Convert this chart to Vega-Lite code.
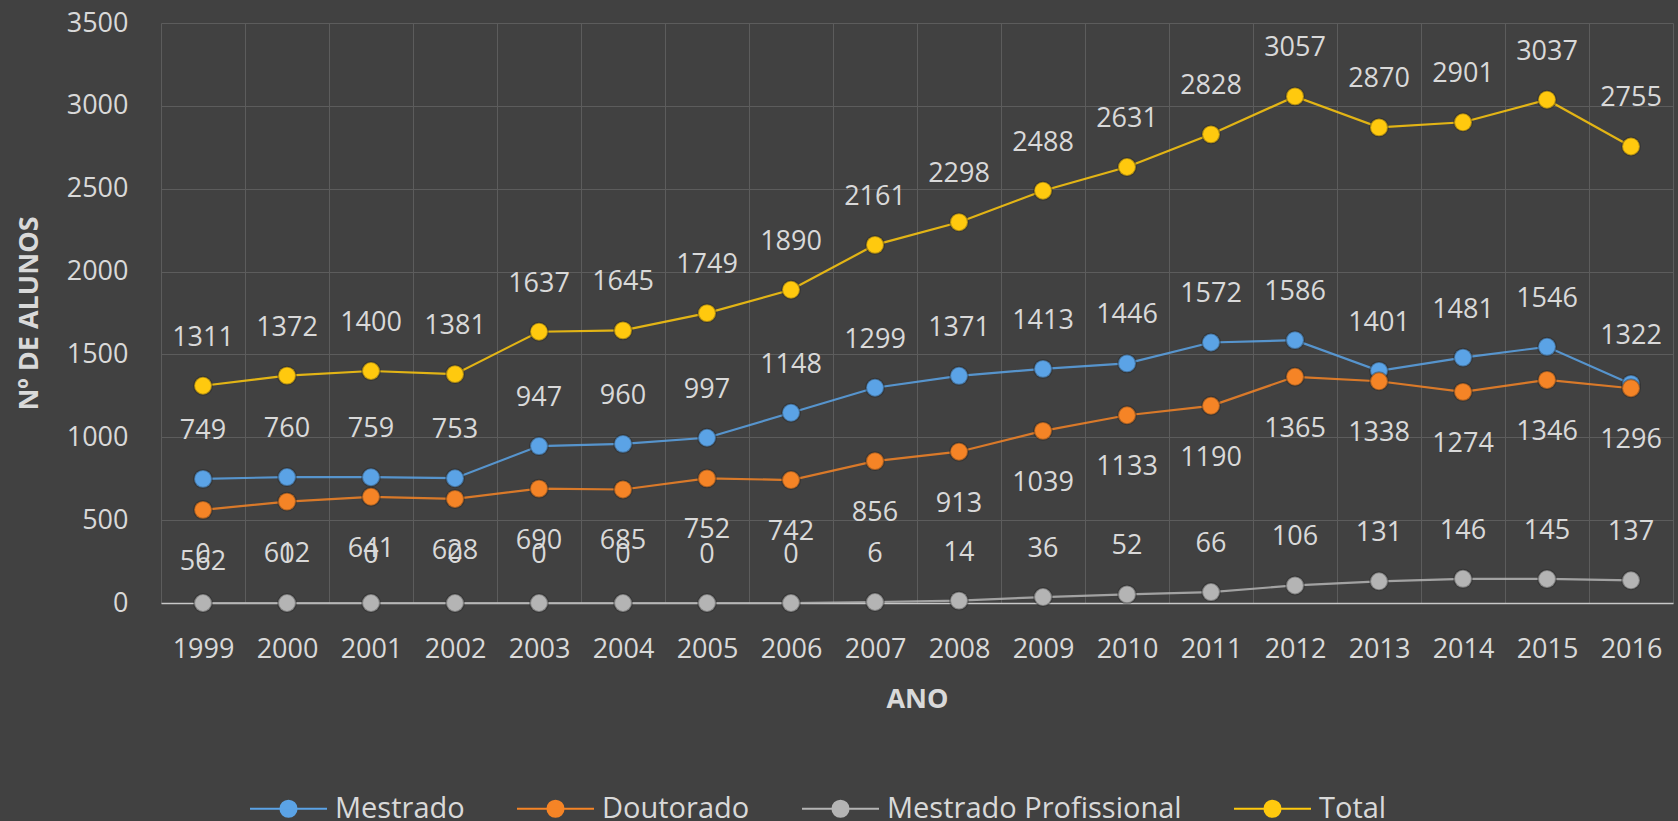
{
  "$schema": "https://vega.github.io/schema/vega-lite/v6.json",
  "autosize": {"type": "none"},
  "padding": {"left": 161, "top": 23, "right": 5, "bottom": 218},
  "width": 1512,
  "height": 580,
  "background": "#414141",
  "config": {
    "view": {"stroke": null},
    "font": "Open Sans",
    "axis": {"gridColor": "#5c5c5c", "gridWidth": 1, "labelColor": "#d9d9d9", "titleColor": "#d9d9d9"}
  },
  "data": {
    "values": [
      {"ano": "1999", "serie": "Mestrado", "valor": 749},
      {"ano": "2000", "serie": "Mestrado", "valor": 760},
      {"ano": "2001", "serie": "Mestrado", "valor": 759},
      {"ano": "2002", "serie": "Mestrado", "valor": 753},
      {"ano": "2003", "serie": "Mestrado", "valor": 947},
      {"ano": "2004", "serie": "Mestrado", "valor": 960},
      {"ano": "2005", "serie": "Mestrado", "valor": 997},
      {"ano": "2006", "serie": "Mestrado", "valor": 1148},
      {"ano": "2007", "serie": "Mestrado", "valor": 1299},
      {"ano": "2008", "serie": "Mestrado", "valor": 1371},
      {"ano": "2009", "serie": "Mestrado", "valor": 1413},
      {"ano": "2010", "serie": "Mestrado", "valor": 1446},
      {"ano": "2011", "serie": "Mestrado", "valor": 1572},
      {"ano": "2012", "serie": "Mestrado", "valor": 1586},
      {"ano": "2013", "serie": "Mestrado", "valor": 1401},
      {"ano": "2014", "serie": "Mestrado", "valor": 1481},
      {"ano": "2015", "serie": "Mestrado", "valor": 1546},
      {"ano": "2016", "serie": "Mestrado", "valor": 1322},
      {"ano": "1999", "serie": "Doutorado", "valor": 562},
      {"ano": "2000", "serie": "Doutorado", "valor": 612},
      {"ano": "2001", "serie": "Doutorado", "valor": 641},
      {"ano": "2002", "serie": "Doutorado", "valor": 628},
      {"ano": "2003", "serie": "Doutorado", "valor": 690},
      {"ano": "2004", "serie": "Doutorado", "valor": 685},
      {"ano": "2005", "serie": "Doutorado", "valor": 752},
      {"ano": "2006", "serie": "Doutorado", "valor": 742},
      {"ano": "2007", "serie": "Doutorado", "valor": 856},
      {"ano": "2008", "serie": "Doutorado", "valor": 913},
      {"ano": "2009", "serie": "Doutorado", "valor": 1039},
      {"ano": "2010", "serie": "Doutorado", "valor": 1133},
      {"ano": "2011", "serie": "Doutorado", "valor": 1190},
      {"ano": "2012", "serie": "Doutorado", "valor": 1365},
      {"ano": "2013", "serie": "Doutorado", "valor": 1338},
      {"ano": "2014", "serie": "Doutorado", "valor": 1274},
      {"ano": "2015", "serie": "Doutorado", "valor": 1346},
      {"ano": "2016", "serie": "Doutorado", "valor": 1296},
      {"ano": "1999", "serie": "Mestrado Profissional", "valor": 0},
      {"ano": "2000", "serie": "Mestrado Profissional", "valor": 0},
      {"ano": "2001", "serie": "Mestrado Profissional", "valor": 0},
      {"ano": "2002", "serie": "Mestrado Profissional", "valor": 0},
      {"ano": "2003", "serie": "Mestrado Profissional", "valor": 0},
      {"ano": "2004", "serie": "Mestrado Profissional", "valor": 0},
      {"ano": "2005", "serie": "Mestrado Profissional", "valor": 0},
      {"ano": "2006", "serie": "Mestrado Profissional", "valor": 0},
      {"ano": "2007", "serie": "Mestrado Profissional", "valor": 6},
      {"ano": "2008", "serie": "Mestrado Profissional", "valor": 14},
      {"ano": "2009", "serie": "Mestrado Profissional", "valor": 36},
      {"ano": "2010", "serie": "Mestrado Profissional", "valor": 52},
      {"ano": "2011", "serie": "Mestrado Profissional", "valor": 66},
      {"ano": "2012", "serie": "Mestrado Profissional", "valor": 106},
      {"ano": "2013", "serie": "Mestrado Profissional", "valor": 131},
      {"ano": "2014", "serie": "Mestrado Profissional", "valor": 146},
      {"ano": "2015", "serie": "Mestrado Profissional", "valor": 145},
      {"ano": "2016", "serie": "Mestrado Profissional", "valor": 137},
      {"ano": "1999", "serie": "Total", "valor": 1311},
      {"ano": "2000", "serie": "Total", "valor": 1372},
      {"ano": "2001", "serie": "Total", "valor": 1400},
      {"ano": "2002", "serie": "Total", "valor": 1381},
      {"ano": "2003", "serie": "Total", "valor": 1637},
      {"ano": "2004", "serie": "Total", "valor": 1645},
      {"ano": "2005", "serie": "Total", "valor": 1749},
      {"ano": "2006", "serie": "Total", "valor": 1890},
      {"ano": "2007", "serie": "Total", "valor": 2161},
      {"ano": "2008", "serie": "Total", "valor": 2298},
      {"ano": "2009", "serie": "Total", "valor": 2488},
      {"ano": "2010", "serie": "Total", "valor": 2631},
      {"ano": "2011", "serie": "Total", "valor": 2828},
      {"ano": "2012", "serie": "Total", "valor": 3057},
      {"ano": "2013", "serie": "Total", "valor": 2870},
      {"ano": "2014", "serie": "Total", "valor": 2901},
      {"ano": "2015", "serie": "Total", "valor": 3037},
      {"ano": "2016", "serie": "Total", "valor": 2755}
    ]
  },
  "encoding": {
    "x": {
      "field": "ano",
      "type": "ordinal",
      "scale": {"type": "band", "paddingInner": 0, "paddingOuter": 0},
      "axis": {
        "title": "ANO",
        "titleFontSize": 27,
        "titleFontWeight": "bold",
        "titleY": 96,
        "titleBaseline": "middle",
        "labelAngle": 0,
        "labelFontSize": 27,
        "labelPadding": 33,
        "ticks": false,
        "domain": true,
        "domainColor": "#c8c8c8",
        "domainWidth": 1.5,
        "grid": true,
        "tickBand": "extent"
      }
    },
    "y": {
      "field": "valor",
      "type": "quantitative",
      "scale": {"domain": [0, 3500], "nice": false},
      "axis": {
        "title": "Nº DE ALUNOS",
        "titleFontSize": 27,
        "titleFontWeight": "bold",
        "titleAngle": -90,
        "titleX": -132,
        "titleY": 290,
        "titleAlign": "center",
        "titleBaseline": "middle",
        "values": [0, 500, 1000, 1500, 2000, 2500, 3000, 3500],
        "format": "d",
        "labelFontSize": 27,
        "labelPadding": 33,
        "ticks": false,
        "domain": false,
        "grid": true
      }
    },
    "color": {
      "field": "serie",
      "type": "nominal",
      "scale": {
        "domain": ["Mestrado", "Doutorado", "Mestrado Profissional", "Total"],
        "range": ["#5ba3e6", "#f58426", "#b4b4b4", "#ffc90e"]
      },
      "legend": {
        "title": null,
        "orient": "none",
        "direction": "horizontal",
        "columns": 4,
        "legendX": 88,
        "legendY": 746,
        "padding": 0,
        "labelFontSize": 29,
        "labelColor": "#d9d9d9",
        "labelLimit": 0,
        "labelOffset": 7,
        "columnPadding": 48,
        "symbolType": "M-1,0L1,0M-0.21,0A0.21,0.21,0,1,0,0.21,0A0.21,0.21,0,1,0,-0.21,0Z",
        "symbolSize": 5929,
        "symbolStrokeWidth": 2,
        "symbolOpacity": 1,
        "encode": {
          "symbols": {
            "update": {
              "fill": {"scale": "color", "field": "value"},
              "stroke": {"scale": "color", "field": "value"},
              "strokeWidth": {"value": 2}
            }
          }
        }
      }
    }
  },
  "layer": [
    {"mark": {"type": "line", "strokeWidth": 2.2, "opacity": 0.85}},
    {"mark": {"type": "point", "filled": true, "size": 320, "opacity": 1, "stroke": "#1e1e1e", "strokeWidth": 2, "strokeOpacity": 0.35}},
    {
      "transform": [{"filter": "datum.serie !== 'Doutorado'"}],
      "mark": {"type": "text", "dy": -48, "fontSize": 27, "baseline": "middle"},
      "encoding": {
        "text": {"field": "valor", "type": "quantitative", "format": "d"},
        "color": {"value": "#d9d9d9"}
      }
    },
    {
      "transform": [{"filter": "datum.serie === 'Doutorado'"}],
      "mark": {"type": "text", "dy": 52, "fontSize": 27, "baseline": "middle"},
      "encoding": {
        "text": {"field": "valor", "type": "quantitative", "format": "d"},
        "color": {"value": "#d9d9d9"}
      }
    }
  ]
}
